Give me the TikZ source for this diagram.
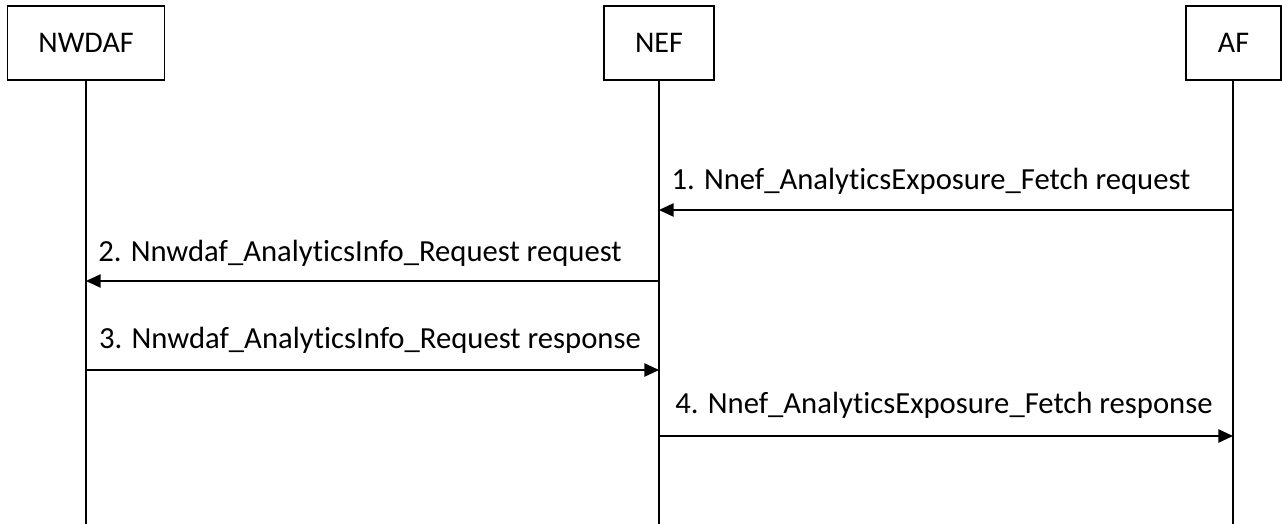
\documentclass[tikz,border=0pt]{standalone}
\usepackage{fontspec}
\setmainfont{Carlito}[Ligatures={NoCommon,NoRare,NoDiscretionary}]
\usetikzlibrary{arrows.meta}
\tikzset{
  entity/.style={draw, line width=1.1pt, minimum height=55.5pt, inner sep=0pt, font=\fontsize{22.5}{26}\selectfont},
  lifeline/.style={line width=1.1pt},
  msg/.style={line width=1.1pt, -{Triangle[length=11pt,width=10pt]}},
  msglabel/.style={inner sep=0pt, font=\fontsize{23}{26}\selectfont}
}
\begin{document}
\begin{tikzpicture}[x=0.75pt,y=-0.75pt]
\useasboundingbox (0,0) rectangle (1282,524);
\node[entity, minimum width=117.4pt] (nwdaf) at (86,43) {NWDAF};
\node[entity, minimum width=82.5pt] (nef) at (659,43) {NEF};
\node[entity, minimum width=71.25pt] (af) at (1233.5,43) {AF};
\coordinate (nwdafend) at (86,524);
\coordinate (nefend) at (659,524);
\coordinate (afend) at (1233,524);
\draw[lifeline] (nwdaf.south) -- (nwdafend);
\draw[lifeline] (nef.south) -- (nefend);
\draw[lifeline] (af.south -| afend) -- (afend);
% message anchor points
\coordinate (af1) at (1233,210);
\coordinate (nef1) at (659,210);
\coordinate (nef2) at (659,281);
\coordinate (nwdaf2) at (86,281);
\coordinate (nwdaf3) at (86,370);
\coordinate (nef3) at (659,370);
\coordinate (nef4) at (659,436);
\coordinate (af4) at (1233,436);
\draw[msg] (af1) -- (nef1);
\draw[msg] (nef2) -- (nwdaf2);
\draw[msg] (nwdaf3) -- (nef3);
\draw[msg] (nef4) -- (af4);
\node[msglabel, anchor=base] (l1) at (931,190) {1. Nnef\_AnalyticsExposure\_Fetch request};
\node[msglabel, anchor=base] (l2) at (360,262) {2. Nnwdaf\_AnalyticsInfo\_Request request};
\node[msglabel, anchor=base] (l3) at (370,348) {3. Nnwdaf\_AnalyticsInfo\_Request response};
\node[msglabel, anchor=base] (l4) at (944,413) {4. Nnef\_AnalyticsExposure\_Fetch response};
\end{tikzpicture}
\end{document}
